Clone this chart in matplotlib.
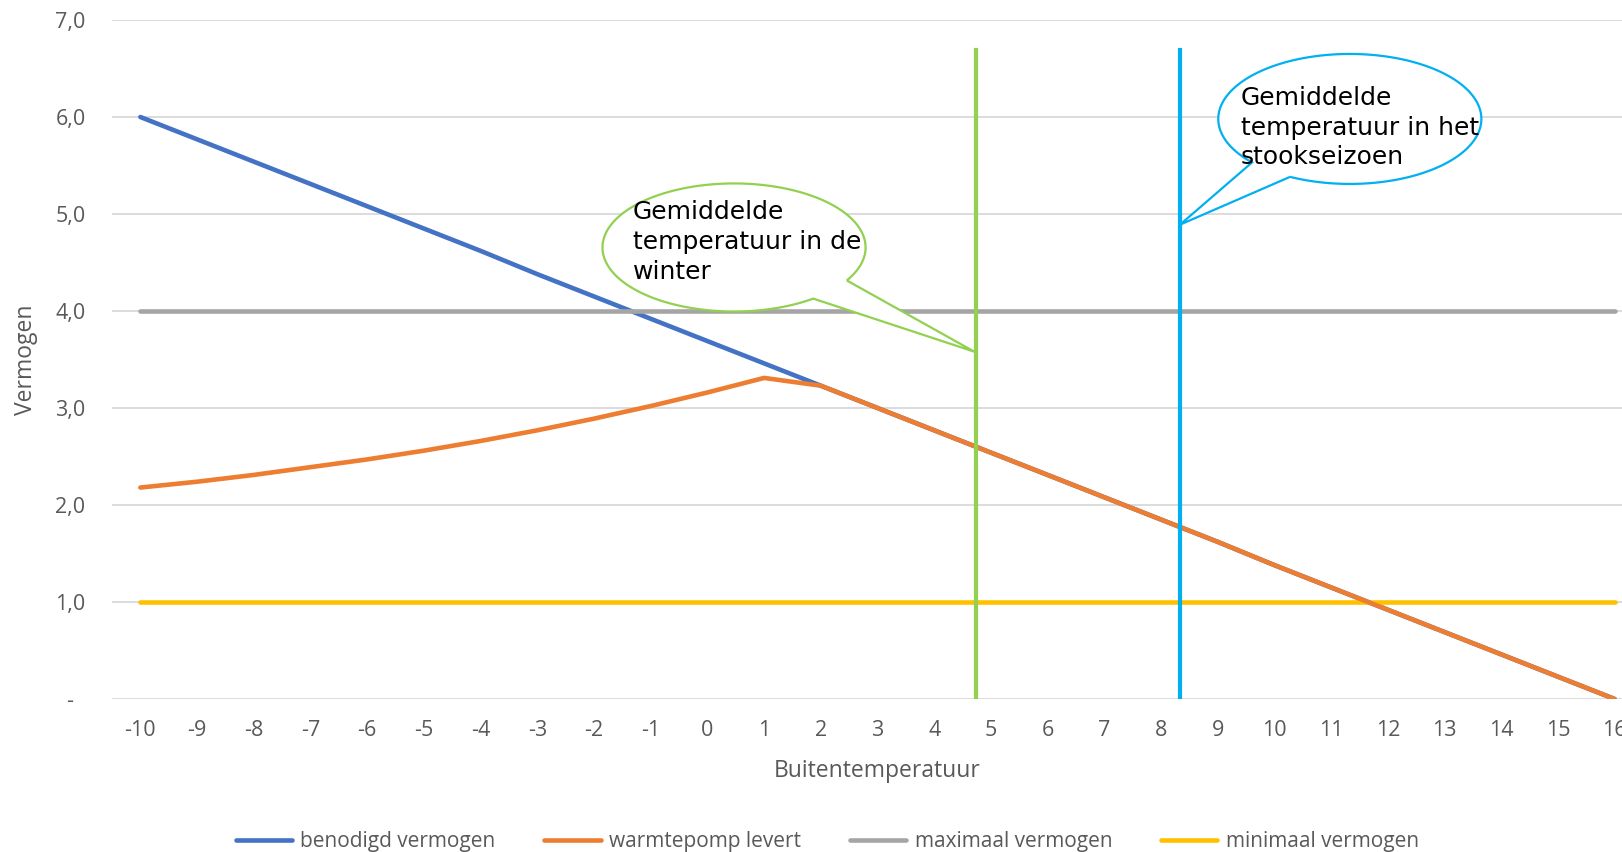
import matplotlib
matplotlib.use("Agg")
import matplotlib.pyplot as plt
import numpy as np
from matplotlib.path import Path
from matplotlib.patches import PathPatch

# gegevens
temperatuur = [-10, -9, -8, -7, -6, -5, -4, -3, -2, -1, 0, 1, 2, 3,
               4, 5, 6, 7, 8, 9, 10, 11, 12, 13, 14, 15, 16]
benodigd = [6.00, 5.77, 5.54, 5.31, 5.08, 4.85, 4.62, 4.38, 4.15, 3.92,
            3.69, 3.46, 3.23, 3.00, 2.77, 2.54, 2.31, 2.08, 1.85, 1.62,
            1.38, 1.15, 0.92, 0.69, 0.46, 0.23, 0.00]
warmtepomp = [2.18, 2.24, 2.31, 2.39, 2.47, 2.56, 2.66, 2.77, 2.89, 3.02,
              3.16, 3.31, 3.23, 3.00, 2.77, 2.54, 2.31, 2.08, 1.85, 1.62,
              1.38, 1.15, 0.92, 0.69, 0.46, 0.23, 0.00]
maximaal = [4.0] * len(temperatuur)
minimaal = [1.0] * len(temperatuur)

t_winter = 4.74
t_stookseizoen = 8.33

y_ticks = [0, 1, 2, 3, 4, 5, 6, 7]
y_labels = ["-  ", "1,0", "2,0", "3,0", "4,0", "5,0", "6,0", "7,0"]

grijs = "#595959"
plt.rcParams['font.family'] = ['Open Sans', 'DejaVu Sans']

fig = plt.figure(figsize=(16.22, 8.52), dpi=100)
ax = fig.add_axes([112 / 1622, (852 - 699) / 852, 1510 / 1622, 679 / 852])

ax.plot(temperatuur, benodigd, color="#4472C4", lw=3.3, solid_capstyle='round',
        label="benodigd vermogen", zorder=3)
ax.plot(temperatuur, warmtepomp, color="#ED7D31", lw=3.3, solid_capstyle='round',
        label="warmtepomp levert", zorder=4)
ax.plot(temperatuur, maximaal, color="#A5A5A5", lw=3.3, solid_capstyle='round',
        label="maximaal vermogen", zorder=3)
ax.plot(temperatuur, minimaal, color="#FFC000", lw=3.3, solid_capstyle='round',
        label="minimaal vermogen", zorder=3)

ax.plot([t_winter, t_winter], [0, 6.69], color="#92D050", lw=3.0, zorder=5)
ax.plot([t_stookseizoen, t_stookseizoen], [0, 6.69], color="#00B0F0", lw=3.0, zorder=5)


def ballon(cx, cy, a, b, t0, t1, tip, kleur):
    t = np.radians(np.linspace(t0, t1, 200))
    pts = np.column_stack([cx + a * np.cos(t), cy + b * np.sin(t)])
    pts = np.vstack([pts, tip, pts[0]])
    p = PathPatch(Path(pts), facecolor="white", edgecolor=kleur, lw=1.6, zorder=6)
    ax.add_patch(p)


ballon(0.47, 4.655, 2.32, 0.66, -31, 307, (4.71, 3.58), "#92D050")
ballon(11.33, 5.98, 2.32, 0.67, 243, 582, (8.335, 4.89), "#00B0F0")

ax.text(-1.32, 5.14, "Gemiddelde\ntemperatuur in de\nwinter", fontsize=18,
        family=['DejaVu Sans'], va='top', ha='left', linespacing=1.3, zorder=7)
ax.text(9.41, 6.32, "Gemiddelde\ntemperatuur in het\nstookseizoen", fontsize=18,
        family=['DejaVu Sans'], va='top', ha='left', linespacing=1.3, zorder=7)

ax.set_xlim(-10.5, 16.13)
ax.set_ylim(0, 7)
ax.set_xticks(temperatuur)
ax.set_xticklabels([str(t) for t in temperatuur])
ax.set_yticks(y_ticks)
ax.set_yticklabels(y_labels)
ax.tick_params(length=0, labelsize=15.5, labelcolor=grijs)
ax.tick_params(axis='y', pad=19)
ax.tick_params(axis='x', pad=15)
ax.grid(axis='y', color="#D9D9D9", lw=1.3)
ax.set_axisbelow(True)
for s in ax.spines.values():
    s.set_visible(False)

ax.set_xlabel("Buitentemperatuur", fontsize=16.5, color=grijs, va='center')
ax.xaxis.set_label_coords(0.5066, -0.1054)
ax.set_ylabel("Vermogen", fontsize=16.5, color=grijs, va='center')
ax.yaxis.set_label_coords(-0.057, 0.5)

leg = fig.legend(loc='center', bbox_to_anchor=(0.51, 0.012), ncol=4, frameon=False,
                 fontsize=15, handlelength=2.7, handletextpad=0.4, columnspacing=2.35,
                 borderpad=0)
for t in leg.get_texts():
    t.set_color(grijs)

fig.savefig("out.png", dpi=100)
